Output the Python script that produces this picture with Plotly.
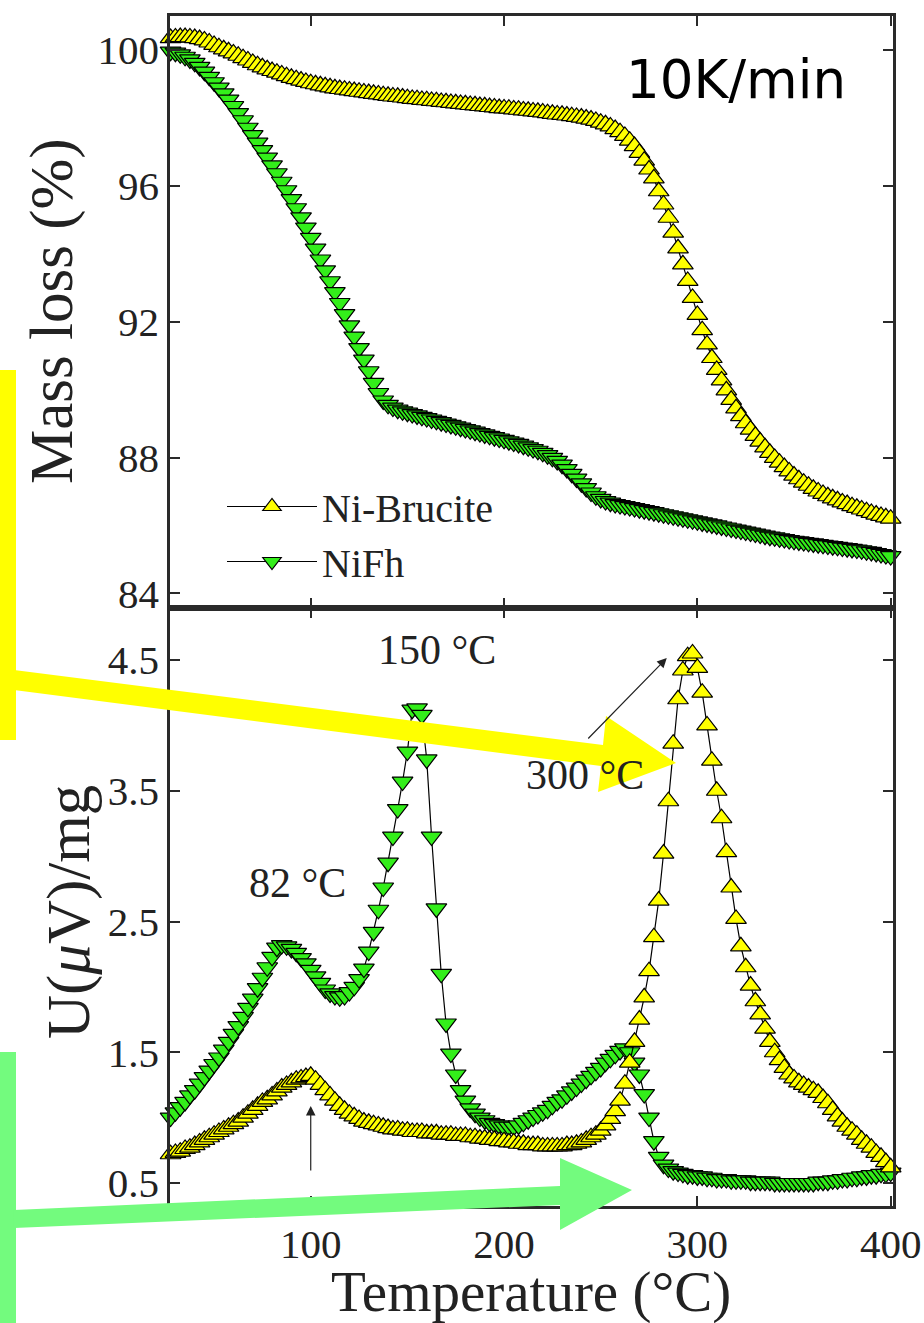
import plotly.graph_objects as go

# ---------------- data ----------------
# temperature sampling grid of the instrument (deg C), 2.5 K steps
temperature = [27.5 + 2.5 * k for k in range(150)]

mass_ni_brucite = [
    100.35, 100.37, 100.38, 100.38, 100.37, 100.35, 100.32, 100.28, 100.22, 100.15,
    100.08, 100.02, 99.96, 99.90, 99.83, 99.76, 99.69, 99.62, 99.55, 99.49,
    99.43, 99.38, 99.33, 99.28, 99.23, 99.18, 99.14, 99.10, 99.06, 99.02,
    98.99, 98.96, 98.93, 98.90, 98.87, 98.85, 98.83, 98.81, 98.79, 98.77,
    98.75, 98.73, 98.71, 98.69, 98.67, 98.65, 98.63, 98.62, 98.60, 98.58,
    98.56, 98.55, 98.53, 98.52, 98.50, 98.49, 98.47, 98.46, 98.44, 98.43,
    98.41, 98.40, 98.38, 98.37, 98.35, 98.34, 98.32, 98.31, 98.29, 98.28,
    98.27, 98.25, 98.24, 98.22, 98.21, 98.19, 98.18, 98.16, 98.14, 98.12,
    98.10, 98.09, 98.07, 98.05, 98.03, 98.01, 97.98, 97.95, 97.91, 97.86,
    97.81, 97.75, 97.67, 97.58, 97.47, 97.33, 97.17, 96.97, 96.74, 96.48,
    96.22, 95.84, 95.45, 95.06, 94.62, 94.16, 93.69, 93.20, 92.70, 92.20,
    91.75, 91.33, 90.93, 90.58, 90.27, 89.98, 89.70, 89.45, 89.22, 89.01,
    88.82, 88.64, 88.47, 88.30, 88.14, 87.99, 87.85, 87.72, 87.59, 87.47,
    87.36, 87.26, 87.17, 87.08, 87.00, 86.93, 86.86, 86.80, 86.74, 86.68,
    86.63, 86.57, 86.52, 86.47, 86.42, 86.37, 86.32, 86.28, 86.24, 86.20,
]

mass_nifh = [
    99.95, 99.92, 99.87, 99.80, 99.72, 99.62, 99.50, 99.36, 99.21, 99.05,
    98.89, 98.72, 98.54, 98.35, 98.14, 97.93, 97.71, 97.49, 97.27, 97.05,
    96.83, 96.60, 96.37, 96.12, 95.87, 95.61, 95.34, 95.07, 94.77, 94.47,
    94.15, 93.83, 93.51, 93.19, 92.87, 92.55, 92.22, 91.89, 91.56, 91.22,
    90.88, 90.54, 90.20, 89.90, 89.68, 89.55, 89.47, 89.41, 89.36, 89.32,
    89.28, 89.24, 89.20, 89.16, 89.12, 89.08, 89.04, 89.00, 88.96, 88.92,
    88.88, 88.84, 88.80, 88.76, 88.72, 88.68, 88.64, 88.60, 88.56, 88.52,
    88.48, 88.44, 88.40, 88.35, 88.30, 88.25, 88.20, 88.14, 88.07, 87.99,
    87.90, 87.79, 87.66, 87.52, 87.38, 87.24, 87.10, 86.97, 86.86, 86.78,
    86.72, 86.67, 86.63, 86.60, 86.57, 86.54, 86.51, 86.48, 86.45, 86.42,
    86.39, 86.36, 86.33, 86.30, 86.27, 86.24, 86.21, 86.18, 86.15, 86.12,
    86.09, 86.06, 86.03, 86.00, 85.97, 85.94, 85.91, 85.88, 85.85, 85.82,
    85.79, 85.76, 85.73, 85.70, 85.67, 85.65, 85.62, 85.60, 85.57, 85.55,
    85.53, 85.51, 85.49, 85.47, 85.45, 85.43, 85.41, 85.39, 85.37, 85.35,
    85.33, 85.31, 85.29, 85.27, 85.24, 85.22, 85.19, 85.16, 85.13, 85.10,
]

dta_ni_brucite = [
    0.72, 0.73, 0.74, 0.76, 0.77, 0.79, 0.81, 0.83, 0.85, 0.87,
    0.89, 0.91, 0.93, 0.95, 0.97, 1.00, 1.03, 1.06, 1.09, 1.12,
    1.14, 1.17, 1.20, 1.23, 1.25, 1.27, 1.29, 1.30, 1.31, 1.32,
    1.29, 1.25, 1.21, 1.17, 1.13, 1.09, 1.06, 1.03, 1.01, 0.99,
    0.97, 0.96, 0.95, 0.94, 0.93, 0.92, 0.91, 0.91, 0.90, 0.90,
    0.89, 0.89, 0.89, 0.88, 0.88, 0.88, 0.87, 0.87, 0.87, 0.86,
    0.86, 0.86, 0.85, 0.85, 0.84, 0.84, 0.83, 0.83, 0.82, 0.82,
    0.81, 0.81, 0.80, 0.80, 0.79, 0.79, 0.79, 0.78, 0.78, 0.78,
    0.78, 0.78, 0.79, 0.79, 0.80, 0.81, 0.83, 0.85, 0.87, 0.90,
    0.94, 0.99, 1.05, 1.13, 1.26, 1.42, 1.58, 1.75, 1.92, 2.12,
    2.38, 2.66, 3.02, 3.42, 3.86, 4.20, 4.42, 4.53, 4.55, 4.44,
    4.25, 4.00, 3.73, 3.50, 3.29, 3.03, 2.76, 2.52, 2.31, 2.15,
    2.01, 1.89, 1.79, 1.68, 1.58, 1.50, 1.44, 1.38, 1.33, 1.30,
    1.27, 1.25, 1.23, 1.21, 1.19, 1.15, 1.11, 1.06, 1.01, 0.97,
    0.93, 0.90, 0.87, 0.83, 0.80, 0.77, 0.73, 0.70, 0.66, 0.62,
]

dta_nifh = [
    1.00, 1.04, 1.08, 1.12, 1.17, 1.21, 1.26, 1.31, 1.36, 1.41,
    1.46, 1.52, 1.58, 1.64, 1.70, 1.77, 1.84, 1.91, 1.99, 2.07,
    2.15, 2.23, 2.30, 2.32, 2.31, 2.29, 2.26, 2.22, 2.18, 2.13,
    2.08, 2.03, 1.98, 1.95, 1.93, 1.92, 1.93, 1.96, 2.00, 2.06,
    2.14, 2.27, 2.42, 2.59, 2.76, 2.95, 3.15, 3.36, 3.57, 3.80,
    4.12, 4.13, 4.08, 3.74, 3.15, 2.60, 2.10, 1.72, 1.49, 1.33,
    1.21, 1.13, 1.07, 1.03, 1.00, 0.98, 0.96, 0.95, 0.94, 0.93,
    0.93, 0.93, 0.94, 0.96, 0.98, 1.00, 1.02, 1.04, 1.06, 1.09,
    1.12, 1.14, 1.17, 1.20, 1.23, 1.26, 1.29, 1.32, 1.35, 1.38,
    1.42, 1.45, 1.48, 1.51, 1.53, 1.50, 1.42, 1.33, 1.18, 1.00,
    0.82, 0.70, 0.64, 0.61, 0.59, 0.58, 0.57, 0.56, 0.56, 0.55,
    0.55, 0.54, 0.54, 0.53, 0.53, 0.53, 0.52, 0.52, 0.52, 0.52,
    0.51, 0.51, 0.51, 0.51, 0.51, 0.50, 0.50, 0.50, 0.50, 0.50,
    0.50, 0.50, 0.50, 0.50, 0.51, 0.51, 0.51, 0.52, 0.52, 0.53,
    0.53, 0.54, 0.54, 0.55, 0.55, 0.56, 0.56, 0.57, 0.57, 0.58,
]

series_names = ["Ni-Brucite", "NiFh"]
x_ticks = [100, 200, 300, 400]
mass_ticks = [84, 88, 92, 96, 100]
dta_ticks = [0.5, 1.5, 2.5, 3.5, 4.5]

# ---------------- styling / geometry ----------------
W, H = 924, 1323
ML, MR, MT, MB = 170, 31, 16, 117
PW, PH = W - ML - MR, H - MT - MB
SPLIT = 608  # pixel row of the panel border


def px(x):
    return (x - ML) / PW


def py(y):
    return (H - MB - y) / PH


SERIF = "Liberation Serif"
SANS = "DejaVu Sans"
INK = "#222222"
YELLOW = "#FFFF00"
GREEN = "#33EE1A"
MSIZE = 18

fig = go.Figure()


def add(y, name, ax, sym, color, show, rank):
    fig.add_trace(go.Scatter(
        x=temperature, y=y, name=name, xaxis=ax[0], yaxis=ax[1],
        mode="lines+markers", showlegend=show, legendrank=rank,
        line=dict(color="black", width=1.2),
        marker=dict(symbol=sym, size=MSIZE, color=color,
                    line=dict(color="black", width=1.2)),
        cliponaxis=False,
    ))


add(mass_ni_brucite, series_names[0], ("x", "y"), "triangle-up", YELLOW, True, 1)
add(mass_nifh, series_names[1], ("x", "y"), "triangle-down", GREEN, True, 2)
add(dta_nifh, series_names[1], ("x2", "y2"), "triangle-down", GREEN, False, 3)
add(dta_ni_brucite, series_names[0], ("x2", "y2"), "triangle-up", YELLOW, False, 4)


def axis(**kw):
    d = dict(
        showline=True, linecolor="#2a2a2a", linewidth=2.5, mirror="ticks",
        ticks="inside", ticklen=10, tickwidth=2, tickcolor="#2a2a2a",
        showgrid=False, zeroline=False, automargin=False,
        tickfont=dict(family=SERIF, size=41, color=INK),
    )
    d.update(kw)
    return d


xr = [27.2, 401.2]
fig.update_layout(
    width=W, height=H,
    margin=dict(l=ML, r=MR, t=MT, b=MB, autoexpand=False),
    paper_bgcolor="white", plot_bgcolor="white",
    font=dict(family=SERIF, color=INK),
    xaxis=axis(domain=[0, 1], range=xr, tickvals=x_ticks,
               showticklabels=False, anchor="y"),
    yaxis=axis(domain=[py(SPLIT), 1], range=[83.57, 101.0],
               tickvals=mass_ticks, anchor="x"),
    xaxis2=axis(domain=[0, 1], range=xr, tickvals=x_ticks,
                anchor="y2", matches="x"),
    yaxis2=axis(domain=[0, py(SPLIT)], range=[0.324, 4.898],
                tickvals=dta_ticks, ticktext=[str(v) for v in dta_ticks], anchor="x2"),
    legend=dict(x=px(222), y=py(474), xanchor="left", yanchor="top",
                bgcolor="rgba(0,0,0,0)", borderwidth=0, itemwidth=90,
                font=dict(family=SERIF, size=40, color=INK),
                traceorder="normal", tracegroupgap=0),
    showlegend=True,
)

ann = []


def text(x, y, s, size, family=SERIF, angle=0):
    ann.append(dict(x=px(x), y=py(y), xref="paper", yref="paper", text=s,
                    showarrow=False, textangle=angle, xanchor="center",
                    yanchor="middle",
                    font=dict(family=family, size=size,
                              color=INK if family == SERIF else "black")))


text(52, 311, "Mass loss (%)", 61, angle=-90)
text(69, 912, "U(<i>μ</i>V)/mg", 61, angle=-90)
text(531, 1292, "Temperature (°C)", 57)
text(437, 650, "150 °C", 42)
text(297, 883, "82 °C", 42)
text(585, 775, "300 °C", 42)
text(736, 79, "10K/min", 53, family=SANS)

# thin black pointer arrows
ann.append(dict(x=100, y=0.5 + (1183 - 1106) / 130.75, xref="x2", yref="y2",
                ax=0, ay=66, axref="pixel", ayref="pixel", text="", showarrow=True,
                arrowhead=2, arrowsize=1.6, arrowwidth=1.2, arrowcolor=INK))
ann.append(dict(x=100 + (667 - 311) / 1.933, y=0.5 + (1183 - 658) / 130.75,
                xref="x2", yref="y2", ax=-80, ay=82, text="", showarrow=True,
                arrowhead=2, arrowsize=1.6, arrowwidth=1.2, arrowcolor=INK))
fig.update_layout(annotations=ann)

# coloured overlay markers (bars + big arrows)
OVER_Y = "#FFFF00"
OVER_G = "#73FB7E"


def poly(points, color):
    d = "M " + " L ".join(f"{px(a):.5f},{py(b):.5f}" for a, b in points) + " Z"
    return dict(type="path", xref="paper", yref="paper", path=d,
                fillcolor=color, line=dict(width=0), layer="above")


shapes = [
    poly([(0, 370), (16, 370), (16, 740), (0, 740)], OVER_Y),
    poly([(14, 670), (603, 745), (606, 716), (676, 763), (598, 792), (601, 766),
          (14, 690)], OVER_Y),
    poly([(0, 1052), (16, 1052), (16, 1323), (0, 1323)], OVER_G),
    poly([(14, 1210), (560, 1186), (560, 1158), (632, 1190), (560, 1230),
          (560, 1205), (14, 1228)], OVER_G),
]
fig.update_layout(shapes=shapes)

fig.write_html("out.html")
